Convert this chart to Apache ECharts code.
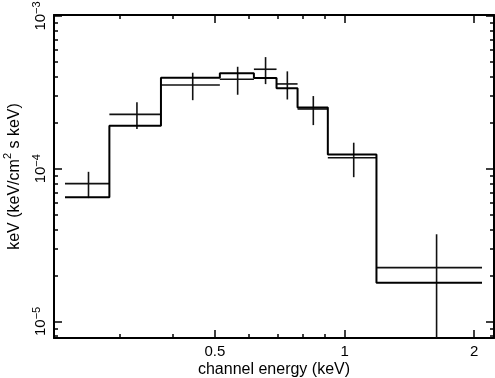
<!DOCTYPE html>
<html>
<head>
<meta charset="utf-8">
<script src="https://cdn.jsdelivr.net/npm/echarts@6/dist/echarts.min.js"></script>
<style>
  html, body { margin: 0; padding: 0; background: #fff; }
  #chart { width: 495px; height: 378px; }
</style>
</head>
<body>
<div id="chart"></div>
<script>
// channel bins (keV)
const binLo = [0.2244, 0.2845, 0.3748, 0.5135, 0.6160, 0.6952, 0.7779, 0.9145, 1.186];
const binHi = [0.2845, 0.3748, 0.5135, 0.6160, 0.6952, 0.7779, 0.9145, 1.186, 2.085];
// data points and 1-sigma errors (keV/cm^2 s keV)
const dataVal = [7.98e-5, 2.27e-4, 3.53e-4, 3.85e-4, 4.48e-4, 3.59e-4, 2.46e-4, 1.18e-4, 2.25e-5];
const dataErr = [1.56e-5, 4.5e-5, 7.2e-5, 8.0e-5, 9.0e-5, 7.5e-5, 5.3e-5, 3.0e-5, 1.47e-5];
// folded model
const modelVal = [6.50e-5, 1.91e-4, 3.94e-4, 4.21e-4, 3.93e-4, 3.36e-4, 2.52e-4, 1.24e-4, 1.79e-5];

// ticks
const xMajor = [0.5, 1, 2];
const xMinor = [0.3, 0.4, 0.6, 0.7, 0.8, 0.9];
const yMajor = [1e-5, 1e-4, 1e-3];
const yMinor = [8e-6, 9e-6, 2e-5, 3e-5, 4e-5, 5e-5, 6e-5, 7e-5, 8e-5, 9e-5,
                2e-4, 3e-4, 4e-4, 5e-4, 6e-4, 7e-4, 8e-4, 9e-4];
const xRange = [0.2116, 2.223];
const yRange = [7.785e-6, 1.0152e-3];

const lg = Math.log10;
const FONT = '"Liberation Sans", Arial, sans-serif';

const crosses = binLo.map((lo, i) => {
  const c = (lo + binHi[i]) / 2;
  const v = dataVal[i], e = dataErr[i];
  return [lg(lo), lg(binHi[i]), lg(c), lg(v), lg(Math.max(v - e, 1e-7)), lg(v + e)];
});

const modelLine = [];
binLo.forEach((lo, i) => {
  modelLine.push([lg(lo), lg(modelVal[i])]);
  modelLine.push([lg(binHi[i]), lg(modelVal[i])]);
});

function xAxisDef(position, ticks, len, withLine, withLabels) {
  return {
    type: 'value',
    position: position,
    min: lg(xRange[0]),
    max: lg(xRange[1]),
    splitLine: { show: false },
    axisLine: { show: withLine, onZero: false, lineStyle: { color: '#000', width: 2 } },
    axisTick: {
      show: true, inside: true, length: len,
      customValues: ticks.map(lg),
      lineStyle: { color: '#000', width: 1.5 }
    },
    axisLabel: withLabels ? {
      show: true,
      customValues: ticks.map(lg),
      margin: 6,
      color: '#000',
      fontSize: 15,
      fontFamily: FONT,
      formatter: v => String(Math.round(Math.pow(10, v) * 10) / 10)
    } : { show: false },
    name: withLabels ? 'channel energy (keV)' : '',
    nameLocation: 'middle',
    nameGap: 24,
    nameMoveOverlap: false,
    nameTextStyle: { color: '#000', fontSize: 16, fontFamily: FONT }
  };
}

function yAxisDef(position, ticks, len, withLine, withLabels) {
  return {
    type: 'value',
    position: position,
    min: lg(yRange[0]),
    max: lg(yRange[1]),
    splitLine: { show: false },
    axisLine: { show: withLine, onZero: false, lineStyle: { color: '#000', width: 2 } },
    axisTick: {
      show: true, inside: true, length: len,
      customValues: ticks.map(lg),
      lineStyle: { color: '#000', width: 1.5 }
    },
    axisLabel: withLabels ? {
      show: true,
      customValues: ticks.map(lg),
      rotate: 90,
      margin: 6,
      fontFamily: FONT,
      formatter: v => '{b|10}{s|\u2212' + (-Math.round(v)) + '}',
      rich: {
        b: { fontSize: 15, color: '#000', fontFamily: FONT, lineHeight: 17, verticalAlign: 'bottom' },
        s: { fontSize: 11, color: '#000', fontFamily: FONT, lineHeight: 11, verticalAlign: 'top' }
      }
    } : { show: false },
    name: withLabels ? '{n|keV (keV/cm}{s|2}{n| s keV)}' : '',
    nameLocation: 'middle',
    nameGap: 31,
    nameTextStyle: {
      rich: {
        n: { fontSize: 16, color: '#000', fontFamily: FONT, lineHeight: 21, verticalAlign: 'bottom' },
        s: { fontSize: 11, color: '#000', fontFamily: FONT, lineHeight: 11, verticalAlign: 'top' }
      }
    }
  };
}

const chart = echarts.init(document.getElementById('chart'));
chart.setOption({
  animation: false,
  backgroundColor: '#fff',
  grid: { left: 54, right: 1, top: 15, bottom: 40, containLabel: false, outerBoundsMode: 'none' },
  xAxis: [
    xAxisDef('bottom', xMajor, 8, true, true),
    xAxisDef('bottom', xMinor, 4, false, false),
    xAxisDef('top', xMajor, 8, true, false),
    xAxisDef('top', xMinor, 4, false, false)
  ],
  yAxis: [
    yAxisDef('left', yMajor, 8, true, true),
    yAxisDef('left', yMinor, 4, false, false),
    yAxisDef('right', yMajor, 8, true, false),
    yAxisDef('right', yMinor, 4, false, false)
  ],
  series: [
    {
      type: 'line',
      data: modelLine,
      xAxisIndex: 0,
      yAxisIndex: 0,
      symbol: 'none',
      lineStyle: { color: '#000', width: 2 },
      silent: true
    },
    {
      type: 'custom',
      data: crosses,
      xAxisIndex: 0,
      yAxisIndex: 0,
      clip: true,
      encode: { x: [0, 1, 2], y: [3, 4, 5] },
      renderItem: (params, api) => {
        const pL = api.coord([api.value(0), api.value(3)]);
        const pR = api.coord([api.value(1), api.value(3)]);
        const pB = api.coord([api.value(2), api.value(4)]);
        const pT = api.coord([api.value(2), api.value(5)]);
        const st = { stroke: '#111', lineWidth: 1.6 };
        return {
          type: 'group',
          children: [
            { type: 'line', shape: { x1: pL[0], y1: pL[1], x2: pR[0], y2: pR[1] }, style: st },
            { type: 'line', shape: { x1: pB[0], y1: pB[1], x2: pT[0], y2: pT[1] }, style: st }
          ]
        };
      }
    }
  ]
});
</script>
</body>
</html>
